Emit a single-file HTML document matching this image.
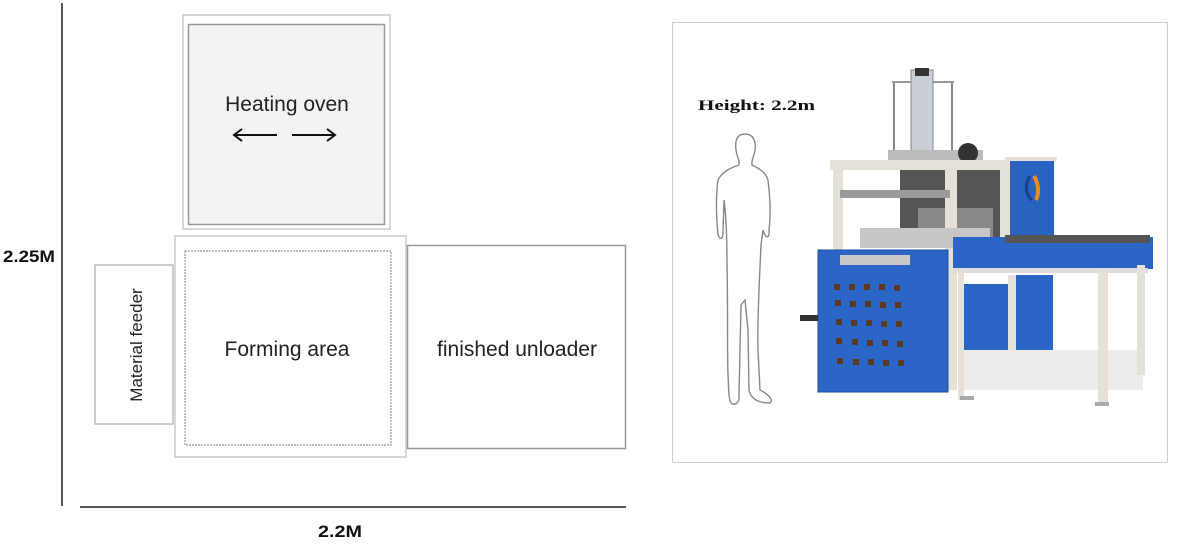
<!DOCTYPE html>
<html><head><meta charset="utf-8"><style>
html,body{margin:0;padding:0;background:#fff;}
svg{display:block}
text{font-family:"Liberation Sans",sans-serif;}
</style></head><body>
<svg width="1200" height="551" viewBox="0 0 1200 551" xmlns="http://www.w3.org/2000/svg">
<!-- axes -->
<line x1="62" y1="3" x2="62" y2="506" stroke="#555" stroke-width="2"/>
<line x1="80" y1="507" x2="626" y2="507" stroke="#555" stroke-width="2"/>
<text x="3" y="262" font-size="17" font-weight="bold" fill="#111" textLength="52" lengthAdjust="spacingAndGlyphs">2.25M</text>
<text x="318" y="537" font-size="17" font-weight="bold" fill="#111" textLength="44" lengthAdjust="spacingAndGlyphs">2.2M</text>
<!-- heating oven -->
<rect x="183" y="15" width="207" height="214" fill="#fff" stroke="#ccc" stroke-width="1.5"/>
<rect x="188.5" y="24.5" width="196" height="200" fill="#f3f3f3" stroke="#999" stroke-width="1.5"/>
<text x="287" y="111" font-size="21" text-anchor="middle" fill="#222">Heating oven</text>
<line x1="235" y1="135" x2="277" y2="135" stroke="#111" stroke-width="2"/>
<path d="M242,129 L234,135 L242,141" fill="none" stroke="#111" stroke-width="2"/>
<line x1="292" y1="135" x2="334" y2="135" stroke="#111" stroke-width="2"/>
<path d="M327,129 L335,135 L327,141" fill="none" stroke="#111" stroke-width="2"/>
<!-- forming -->
<rect x="175" y="236" width="231" height="221" fill="#fff" stroke="#ccc" stroke-width="1.5"/>
<rect x="185" y="251" width="206" height="194" fill="none" stroke="#999" stroke-width="1.2" stroke-dasharray="2,1"/>
<text x="287" y="356" font-size="21" text-anchor="middle" fill="#222">Forming area</text>
<!-- unloader -->
<rect x="407.5" y="245.5" width="218" height="203" fill="#fff" stroke="#999" stroke-width="1.5"/>
<text x="517" y="356" font-size="21" text-anchor="middle" fill="#222">finished unloader</text>
<!-- feeder -->
<rect x="95" y="265" width="78" height="159" fill="#fff" stroke="#aaa" stroke-width="1.2"/>
<text transform="translate(142,345) rotate(-90)" font-size="17" text-anchor="middle" fill="#222">Material feeder</text>
<!-- photo frame -->
<rect x="672.5" y="22.5" width="495" height="440" fill="#fff" stroke="#ccc" stroke-width="1"/>
<text x="698" y="110" font-size="15" font-weight="bold" fill="#111" style="font-family:'Liberation Serif',serif" textLength="117" lengthAdjust="spacingAndGlyphs">Height: 2.2m</text>
<!-- person -->
<path d="M745,134 C736,134 735,142 736,150 C737,158 740,160 739,165 C730,168 722,172 718,180 C716,195 716,215 718,235 C720,240 723,240 723,232 L724,200 C726,215 727,240 727,265 C728,300 727,340 728,375 C729,390 728,400 732,404 C736,405 740,402 739,395 L741,305 L745,300 L748,330 L749,390 C751,400 760,403 770,403 C774,400 768,394 760,390 L758,350 C757,320 760,270 761,245 L763,230 C765,238 770,240 769,230 C771,215 770,195 768,180 C766,172 758,168 752,165 C751,160 754,157 755,150 C756,142 754,134 745,134 Z" fill="#fff" stroke="#888" stroke-width="1.4"/>
<!-- machine -->
<line x1="894" y1="82" x2="894" y2="150" stroke="#888" stroke-width="2"/>
<line x1="952" y1="82" x2="952" y2="150" stroke="#888" stroke-width="2"/>
<line x1="892" y1="82" x2="954" y2="82" stroke="#999" stroke-width="2"/>
<rect x="911" y="70" width="22" height="82" fill="#c9ced4" stroke="#888"/>
<rect x="915" y="68" width="14" height="8" fill="#333"/>
<rect x="888" y="150" width="95" height="10" fill="#bbb"/>
<circle cx="968" cy="153" r="10" fill="#333"/>
<rect x="900" y="165" width="108" height="78" fill="#555"/>
<rect x="918" y="208" width="75" height="40" fill="#888"/>
<rect x="830" y="160" width="180" height="10" fill="#e6e1d8"/>
<rect x="833" y="160" width="10" height="100" fill="#e6e1d8"/>
<rect x="945" y="160" width="12" height="230" fill="#e6e1d8"/>
<rect x="1000" y="160" width="10" height="80" fill="#e6e1d8"/>
<rect x="840" y="190" width="110" height="8" fill="#9a9a9a"/>
<rect x="1010" y="159" width="44" height="76" fill="#2a62c0"/>
<rect x="1005" y="157" width="52" height="4" fill="#e6e1d8"/>
<path d="M1030,176 C1024,185 1026,196 1032,200" stroke="#1b3f88" stroke-width="3" fill="none"/>
<path d="M1034,176 C1040,186 1038,196 1036,200" stroke="#f08a20" stroke-width="4" fill="none"/>
<rect x="860" y="228" width="130" height="20" fill="#c7c7c7"/>
<rect x="818" y="250" width="130" height="142" fill="#2b66c6"/>
<rect x="818" y="250" width="130" height="142" fill="none" stroke="#1e4f9f" stroke-width="1"/>
<rect x="840" y="255" width="70" height="10" fill="#c8c8c8"/>
<g fill="#5a3b22">
<rect x="834" y="284" width="6" height="6"/><rect x="849" y="284" width="6" height="6"/><rect x="864" y="284" width="6" height="6"/><rect x="879" y="284" width="6" height="6"/><rect x="894" y="285" width="6" height="6"/>
<rect x="835" y="300" width="6" height="6"/><rect x="850" y="301" width="6" height="6"/><rect x="865" y="301" width="6" height="6"/><rect x="880" y="302" width="6" height="6"/><rect x="895" y="302" width="6" height="6"/>
<rect x="836" y="319" width="6" height="6"/><rect x="851" y="320" width="6" height="6"/><rect x="866" y="320" width="6" height="6"/><rect x="881" y="321" width="6" height="6"/><rect x="896" y="321" width="6" height="6"/>
<rect x="836" y="338" width="6" height="6"/><rect x="852" y="339" width="6" height="6"/><rect x="867" y="340" width="6" height="6"/><rect x="882" y="340" width="6" height="6"/><rect x="897" y="341" width="6" height="6"/>
<rect x="837" y="358" width="6" height="6"/><rect x="853" y="359" width="6" height="6"/><rect x="868" y="359" width="6" height="6"/><rect x="883" y="360" width="6" height="6"/><rect x="898" y="360" width="6" height="6"/>
</g>
<rect x="800" y="315" width="18" height="6" fill="#333"/>
<rect x="961" y="284" width="48" height="86" fill="#2b66c6"/>
<rect x="1015" y="275" width="38" height="75" fill="#2b66c6"/>
<rect x="1008" y="275" width="8" height="100" fill="#e6e1d8"/>
<rect x="963" y="350" width="180" height="40" fill="#ececec"/>
<rect x="953" y="237" width="200" height="32" fill="#2b66c6"/>
<rect x="1005" y="235" width="145" height="8" fill="#555"/>
<rect x="953" y="268" width="195" height="5" fill="#ddd"/>
<rect x="1098" y="270" width="10" height="135" fill="#e6e1d8"/>
<rect x="1137" y="265" width="8" height="110" fill="#e6e1d8"/>
<rect x="958" y="270" width="6" height="130" fill="#e6e1d8"/>
<rect x="1095" y="402" width="14" height="4" fill="#aaa"/>
<rect x="960" y="396" width="14" height="4" fill="#aaa"/>
</svg>
</body></html>
